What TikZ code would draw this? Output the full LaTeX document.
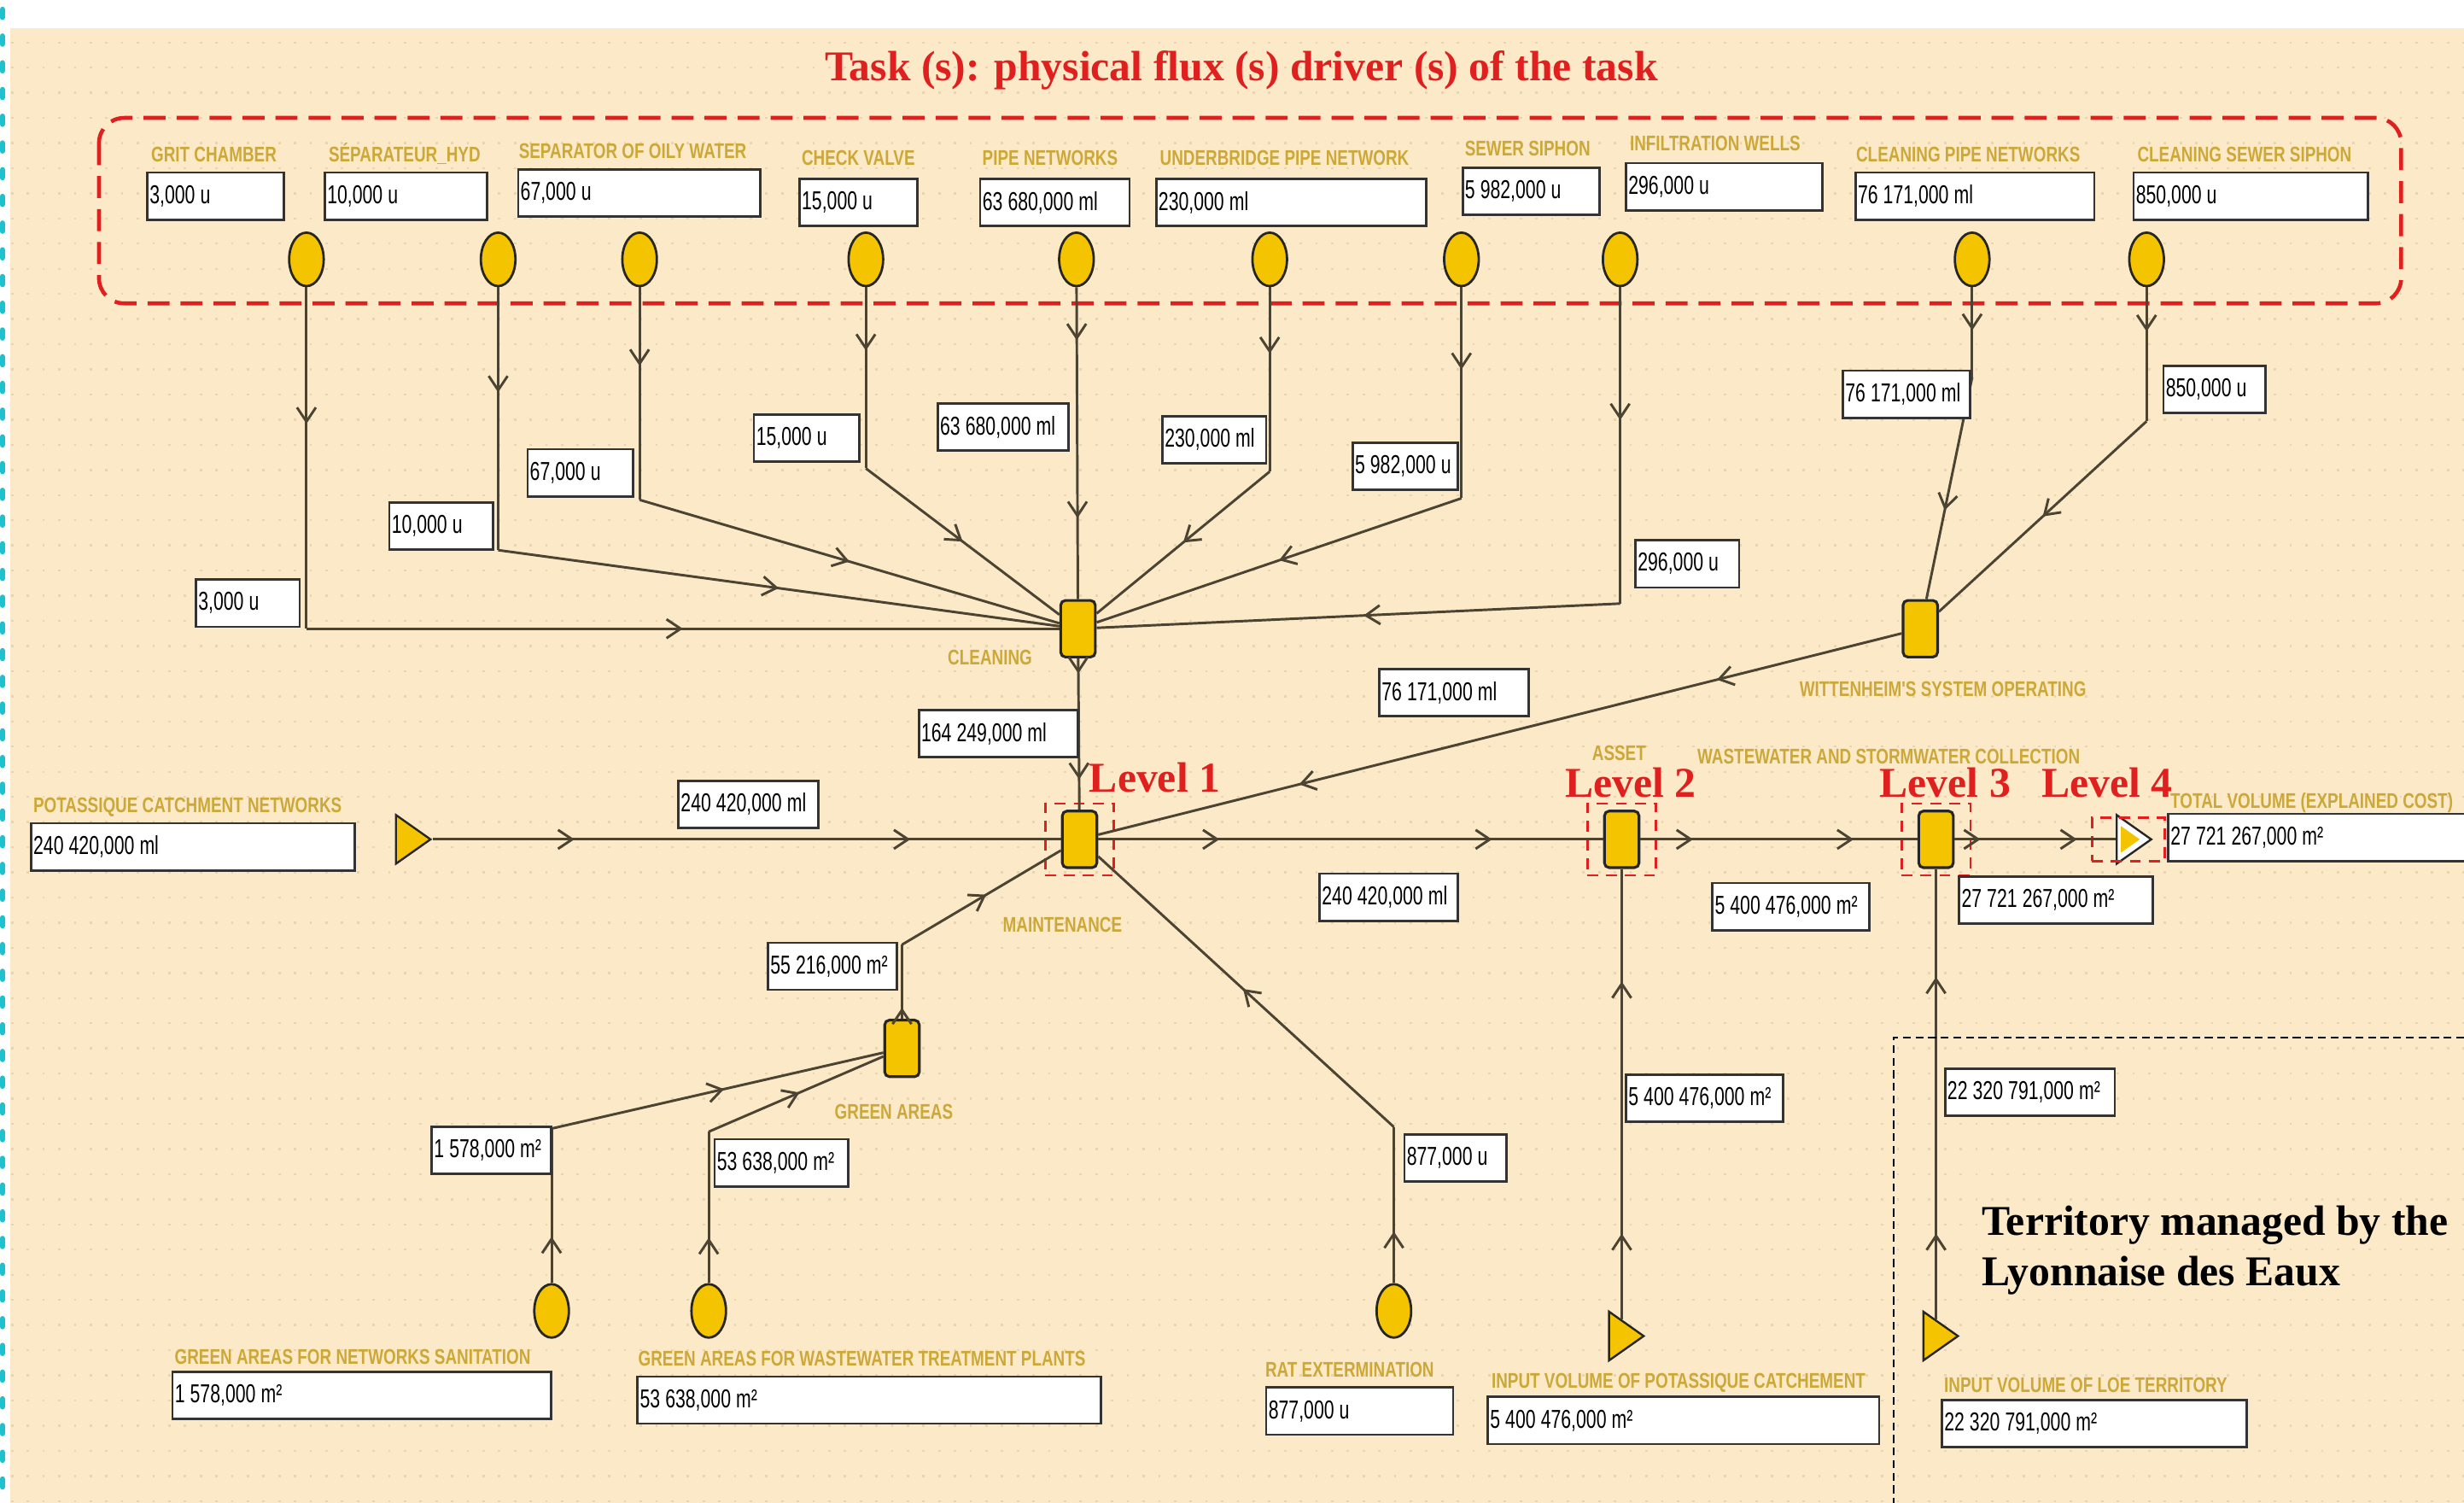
\documentclass[tikz,border=0pt]{standalone}
\usepackage{fontspec}
\setmainfont{Liberation Serif}
\newfontfamily\valfont[FakeStretch=0.7]{Liberation Sans}
\newfontfamily\lblfont[FakeStretch=0.76]{Liberation Sans}
\usepackage{xcolor}
\usetikzlibrary{shapes.geometric, arrows.meta, positioning, fit, decorations.markings}
\definecolor{bgbeige}{HTML}{FCE9C8}
\definecolor{gridcol}{HTML}{E9D4B0}
\definecolor{yel}{HTML}{F5C400}
\definecolor{lblgold}{HTML}{CCA838}
\definecolor{lvlred}{HTML}{E0201E}
\definecolor{flowcol}{HTML}{4B4433}
\definecolor{cyanedge}{HTML}{1EC2CE}
\tikzset{
        drv/.style={ellipse, draw=black!85, line width=1.5pt, fill=yel, minimum width=22, minimum height=34, inner sep=0pt},
        act/.style={rectangle, rounded corners=3pt, draw=black!85, line width=1.7pt, fill=yel, minimum width=22, minimum height=36, inner sep=0pt},
        src/.style={isosceles triangle, isosceles triangle stretches, draw=black!85, line width=1.3pt, fill=yel, minimum width=31, minimum height=22, inner sep=0pt},
        valbox/.style={draw=black!80, line width=1.5pt, fill=white, anchor=north west, text width=#1, align=left, inner xsep=1.5pt, inner ysep=0pt, minimum height=30, font=\valfont\fontsize{16.5}{16.5}\selectfont, execute at begin node={\spaceskip=3.3pt\relax}},
        lbl/.style={text=lblgold, anchor=base west, inner sep=0pt, font=\lblfont\bfseries\fontsize{13.5}{13.5}\selectfont},
        lvltxt/.style={text=lvlred, anchor=base west, inner sep=0pt, font=\bfseries\fontsize{27}{27}\selectfont},
        lvlbox/.style={draw=lvlred, line width=1.4pt, dash pattern=on 7pt off 5pt, inner xsep=10pt, inner ysep=4pt},
        taskbox/.style={draw=lvlred, line width=2.5pt, dash pattern=on 14pt off 7pt, rounded corners=16pt},
        flow/.style={draw=flowcol, line width=1.6pt},
        tipat/.style={postaction={decorate, decoration={markings, mark=at position #1 with {\arrow[flowcol]{Straight Barb[length=9pt,width=12pt]}}}}},
        gridrow/.style={draw=gridcol, line width=1.3pt, dash pattern=on 1.5pt off 8.5pt},
    }

\begin{document}
\begin{tikzpicture}[x=1pt, y=-1pt]
        \useasboundingbox (0,0) rectangle (1568,956);
        \clip (0,0) rectangle (1568,956);

        % Background
        \fill[white] (0,0) rectangle (1568,956);
        \fill[bgbeige] (6.5,18) rectangle (1568,956);
        \foreach \y in {27,43,...,956}
            \draw[gridrow] (7,\y) -- (1568,\y);
        \draw[cyanedge, line width=3.5pt, line cap=round, dash pattern=on 5pt off 12pt] (1.5,6) -- (1.5,956);

        % Title and task frame
        \node[text=lvlred, anchor=base, inner sep=0pt, font=\bfseries\fontsize{27}{27}\selectfont] (title) at (790,51.6) {Task (s): physical flux (s) driver (s) of the task};
        \draw[taskbox] (63,75) rectangle (1528,193);

        % Activities
        \node[act] (cleaning) at (686,400) {};
        \node[act] (witt) at (1222,400) {};
        \node[act] (maint) at (687,534) {};
        \node[act] (asset) at (1032,534) {};
        \node[act] (wwsc) at (1232,534) {};
        \node[act] (green) at (574,667) {};

        \node[lbl] (cleanl) at (603,423) {CLEANING};
        \node[lbl] (wittl) at (1145,443) {WITTENHEIM'S SYSTEM OPERATING};
        \node[lbl] (maintl) at (638,593) {MAINTENANCE};
        \node[lbl] (assetl) at (1013,484) {ASSET};
        \node[lbl] (wwscl) at (1080,486) {WASTEWATER AND STORMWATER COLLECTION};
        \node[lbl] (greenl) at (531,712) {GREEN AREAS};

        % Resources
        \node[src] (potas) at (260,534) {};
        \node[src, fill=white] (total) at (1355,534) {};
        \node[src, draw=none, minimum width=17, minimum height=12] (totalin) at ([xshift=-1pt]total.center) {};
        \node[src] (inpot) at (1032,850) {};
        \node[src] (inloe) at (1232,850) {};

        \node[lbl] (potasl) at (21,517) {POTASSIQUE CATCHMENT NETWORKS};
        \node[valbox=203] (potasb) at (19,523) {240 420,000 ml};
        \node[lbl] (totall) at (1381,514) {TOTAL VOLUME (EXPLAINED COST)};
        \node[valbox=200] (totalb) at (1379,517) {27 721 267,000 m²};
        \node[lbl] (inpotl) at (949,883) {INPUT VOLUME OF POTASSIQUE CATCHEMENT};
        \node[valbox=246] (inpotb) at (946,888) {5 400 476,000 m²};
        \node[lbl] (inloel) at (1237,886) {INPUT VOLUME OF LOE TERRITORY};
        \node[valbox=191] (inloeb) at (1235,890) {22 320 791,000 m²};

        % Levels
        \node[lvlbox, fit=(maint)] (lv1) {};
        \node[lvlbox, fit=(asset)] (lv2) {};
        \node[lvlbox, fit=(wwsc)] (lv3) {};
        \node[lvlbox, fit=(total), inner xsep=11pt, inner ysep=3pt, xshift=-4pt] (lv4) {};
        \node[lvltxt] (lv1t) at (693,504) {Level 1};
        \node[lvltxt] (lv2t) at (996,507) {Level 2};
        \node[lvltxt] (lv3t) at (1196,507) {Level 3};
        \node[lvltxt] (lv4t) at (1299,507) {Level 4};

        % Drivers of the tasks
        \node[lbl] (gritl) at (96,103) {GRIT CHAMBER};
        \node[valbox=84] (gritb) at (93,109) {3,000 u};
        \node[drv] (grit) at (195,165) {};
        \node[lbl] (sepl) at (209,103) {SÉPARATEUR\_HYD};
        \node[valbox=100] (sepb) at (206,109) {10,000 u};
        \node[drv] (sep) at (317,165) {};
        \node[lbl] (oilyl) at (330,101) {SEPARATOR OF OILY WATER};
        \node[valbox=151] (oilyb) at (329,107) {67,000 u};
        \node[drv] (oily) at (407,165) {};
        \node[lbl] (checkl) at (510,105) {CHECK VALVE};
        \node[valbox=72] (checkb) at (508,113) {15,000 u};
        \node[drv] (check) at (551,165) {};
        \node[lbl] (pipel) at (625,105) {PIPE NETWORKS};
        \node[valbox=92] (pipeb) at (623,113) {63 680,000 ml};
        \node[drv] (pipe) at (685,165) {};
        \node[lbl] (bridgel) at (738,105) {UNDERBRIDGE PIPE NETWORK};
        \node[valbox=169] (bridgeb) at (735,113) {230,000 ml};
        \node[drv] (bridge) at (808,165) {};
        \node[lbl] (siphonl) at (932,99) {SEWER SIPHON};
        \node[valbox=84] (siphonb) at (930,106) {5 982,000 u};
        \node[drv] (siphon) at (930,165) {};
        \node[lbl] (wellsl) at (1037,96) {INFILTRATION WELLS};
        \node[valbox=122] (wellsb) at (1034,103) {296,000 u};
        \node[drv] (wells) at (1031,165) {};
        \node[lbl] (cpipel) at (1181,103) {CLEANING PIPE NETWORKS};
        \node[valbox=149] (cpipeb) at (1180,109) {76 171,000 ml};
        \node[drv] (cpipe) at (1255,165) {};
        \node[lbl] (csiphonl) at (1360,103) {CLEANING SEWER SIPHON};
        \node[valbox=146] (csiphonb) at (1357,109) {850,000 u};
        \node[drv] (csiphon) at (1366,165) {};

        % Drivers of the lower tasks
        \node[drv] (gnet) at (351,834) {};
        \node[lbl] (gnetl) at (111,868) {GREEN AREAS FOR NETWORKS SANITATION};
        \node[valbox=238] (gnetb) at (109,872) {1 578,000 m²};
        \node[drv] (gwwtp) at (451,834) {};
        \node[lbl] (gwwtpl) at (406,869) {GREEN AREAS FOR WASTEWATER TREATMENT PLANTS};
        \node[valbox=292] (gwwtpb) at (405,875) {53 638,000 m²};
        \node[drv] (rat) at (887,834) {};
        \node[lbl] (ratl) at (805,876) {RAT EXTERMINATION};
        \node[valbox=116] (ratb) at (805,882) {877,000 u};

        % Corners of the flows
        \coordinate (gritc) at (195,400);
        \coordinate (sepc) at (317,350);
        \coordinate (oilyc) at (407,318);
        \coordinate (checkc) at (551,298);
        \coordinate (bridgec) at (808,300);
        \coordinate (siphonc) at (930,317);
        \coordinate (wellsc) at (1031,384);
        \coordinate (cpipec) at (1255,240);
        \coordinate (csiphonc) at (1366,268);
        \coordinate (greenc) at (574,601);
        \coordinate (gnetc) at (351,718);
        \coordinate (gwwtpc) at (451,720);
        \coordinate (ratc) at (887,717);

        % Flows into cleaning
        \draw[flow, tipat=0.4] (grit) -- (gritc);
        \draw[flow, tipat=0.5] (gritc) -- (cleaning);
        \draw[flow, tipat=0.4] (sep) -- (sepc);
        \draw[flow, tipat=0.5] (sepc) -- (cleaning);
        \draw[flow, tipat=0.37] (oily) -- (oilyc);
        \draw[flow, tipat=0.5] (oilyc) -- (cleaning);
        \draw[flow, tipat=0.35] (check) -- (checkc);
        \draw[flow, tipat=0.5] (checkc) -- (cleaning);
        \draw[flow, tipat=0.17, tipat=0.74] (pipe) -- (cleaning);
        \draw[flow, tipat=0.36] (bridge) -- (bridgec);
        \draw[flow, tipat=0.5] (bridgec) -- (cleaning);
        \draw[flow, tipat=0.39] (siphon) -- (siphonc);
        \draw[flow, tipat=0.5] (siphonc) -- (cleaning);
        \draw[flow, tipat=0.42] (wells) -- (wellsc);
        \draw[flow, tipat=0.49] (wellsc) -- (cleaning);

        % Flows into operating
        \draw[flow, tipat=0.48] (cpipe) -- (cpipec);
        \draw[flow, tipat=0.6] (cpipec) -- (witt);
        \draw[flow, tipat=0.33] (csiphon) -- (csiphonc);
        \draw[flow, tipat=0.5] (csiphonc) -- (witt);

        % Flows into maintenance
        \draw[flow, tipat=0.23, tipat=0.75] (witt) -- (maint);
        \draw[flow, tipat=0.1, tipat=0.8] (cleaning) -- (maint);
        \draw[flow, tipat=0.15] (green) -- (greenc);
        \draw[flow, tipat=0.53] (greenc) -- (maint);
        \draw[flow, tipat=0.33] (rat) -- (ratc);
        \draw[flow, tipat=0.51] (ratc) -- (maint);
        \draw[flow, tipat=0.3] (gnet) -- (gnetc);
        \draw[flow, tipat=0.52] (gnetc) -- (green);
        \draw[flow, tipat=0.3] (gwwtp) -- (gwwtpc);
        \draw[flow, tipat=0.52] (gwwtpc) -- (green);

        % Main line
        \draw[flow, tipat=0.225, tipat=0.76] (potas) -- (maint);
        \draw[flow, tipat=0.24, tipat=0.78] (maint) -- (asset);
        \draw[flow, tipat=0.19, tipat=0.77] (asset) -- (wwsc);
        \draw[flow, tipat=0.16, tipat=0.76] (wwsc) -- (total);
        \draw[flow, tipat=0.19, tipat=0.75] (inpot) -- (asset);
        \draw[flow, tipat=0.19, tipat=0.76] (inloe) -- (wwsc);

        % Values on the flows
        \node[valbox=63] (f1) at (124,368) {3,000 u};
        \node[valbox=63] (f2) at (247,319) {10,000 u};
        \node[valbox=64] (f3) at (335,285) {67,000 u};
        \node[valbox=64] (f4) at (479,263) {15,000 u};
        \node[valbox=80] (f5) at (596,256) {63 680,000 ml};
        \node[valbox=63] (f6) at (739,264) {230,000 ml};
        \node[valbox=64] (f7) at (860,281) {5 982,000 u};
        \node[valbox=63] (f8) at (1040,343) {296,000 u};
        \node[valbox=78] (f9) at (1172,235) {76 171,000 ml};
        \node[valbox=62] (f10) at (1376,232) {850,000 u};
        \node[valbox=92] (f11) at (877,425) {76 171,000 ml};
        \node[valbox=98] (f12) at (584,451) {164 249,000 ml};
        \node[valbox=86] (f13) at (431,496) {240 420,000 ml};
        \node[valbox=85] (f14) at (839,555) {240 420,000 ml};
        \node[valbox=97] (f15) at (1089,561) {5 400 476,000 m²};
        \node[valbox=120] (f16) at (1246,557) {27 721 267,000 m²};
        \node[valbox=79] (f17) at (488,599) {55 216,000 m²};
        \node[valbox=73] (f18) at (274,716) {1 578,000 m²};
        \node[valbox=82] (f19) at (454,724) {53 638,000 m²};
        \node[valbox=62] (f20) at (893,721) {877,000 u};
        \node[valbox=97] (f21) at (1034,683) {5 400 476,000 m²};
        \node[valbox=105] (f22) at (1237,679) {22 320 791,000 m²};

        % Territory
        \draw[black, line width=1pt, dash pattern=on 5pt off 3pt] (1568,660) -- (1205,660) -- (1205,960);
        \node[anchor=north west, inner sep=0pt, align=left, font=\bfseries\fontsize{27}{32}\selectfont] (terr) at (1261,767) {Territory managed by the\\Lyonnaise des Eaux};
    \end{tikzpicture}
\end{document}
